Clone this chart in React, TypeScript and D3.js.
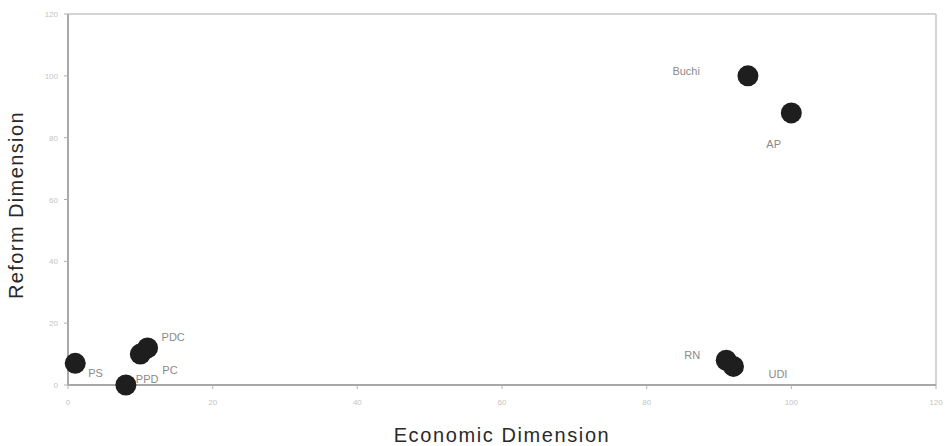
import React from "react";
import * as d3 from "d3";

const parties = ["PS", "PPD", "PC", "PDC", "Buchi", "AP", "RN", "UDI"];
const economic = [1, 8, 10, 11, 94, 100, 91, 92];
const reform = [7, 0, 10, 12, 100, 88, 8, 6];
const xTicks = [0, 20, 40, 60, 80, 100, 120];
const yTicks = [0, 20, 40, 60, 80, 100, 120];

// label placement offsets (px) relative to each point: [dx, dy, anchor]
const labelOffsets: [number, number, string][] = [
  [13, 14, "start"],
  [10, -2, "start"],
  [22, 20, "start"],
  [14, -7, "start"],
  [-48, -1, "end"],
  [-25, 35, "start"],
  [-26, -1, "end"],
  [35, 12, "start"],
];

export default function App() {
  const W = 949, H = 446;
  const m = { left: 68, right: 13, top: 14, bottom: 61 };
  const x = d3.scaleLinear().domain([0, 120]).range([m.left, W - m.right]);
  const y = d3.scaleLinear().domain([0, 120]).range([H - m.bottom, m.top]);
  const font = "Liberation Sans, Arial, sans-serif";
  return (
    <svg width={W} height={H} style={{ position: "absolute", left: 0, top: 0 }} fontFamily={font}>
      <rect x={0} y={0} width={W} height={H} fill="#fff" />
      {/* top and right frame */}
      <line x1={x(0)} x2={x(120)} y1={y(120)} y2={y(120)} stroke="#d4d4d4" strokeWidth={2} />
      <line x1={x(120)} x2={x(120)} y1={y(120)} y2={y(0)} stroke="#d4d4d4" strokeWidth={2} />
      {/* axes */}
      <line x1={x(0)} x2={x(120)} y1={y(0)} y2={y(0)} stroke="#a8a8a8" strokeWidth={2} />
      <line x1={x(0)} x2={x(0)} y1={y(0)} y2={y(120)} stroke="#a8a8a8" strokeWidth={2} />
      {xTicks.map((t) => (
        <g key={"x" + t}>
          <line x1={x(t)} x2={x(t)} y1={y(0)} y2={y(0) + 4} stroke="#b0b0b0" strokeWidth={1} />
          <text x={x(t)} y={y(0) + 20} fontSize={8} fill="#c4c4c4" textAnchor="middle">{t}</text>
        </g>
      ))}
      {yTicks.map((t) => (
        <g key={"y" + t}>
          <line x1={x(0) - 4} x2={x(0)} y1={y(t)} y2={y(t)} stroke="#b0b0b0" strokeWidth={1} />
          <text x={x(0) - 10} y={y(t) + 3} fontSize={8} fill="#c4c4c4" textAnchor="end">{t}</text>
        </g>
      ))}
      {parties.map((p, i) => (
        <circle key={p} cx={x(economic[i])} cy={y(reform[i])} r={10.5} fill="#1e1e1e" />
      ))}
      {parties.map((p, i) => {
        const [dx, dy, anchor] = labelOffsets[i];
        return (
          <text key={"l" + p} x={x(economic[i]) + dx} y={y(reform[i]) + dy} fontSize={11} fill="#8a8a8a" textAnchor={anchor}>
            {p}
          </text>
        );
      })}
      <text x={(x(0) + x(120)) / 2} y={442} fontSize={20} fill="#2a2a2a" textAnchor="middle" letterSpacing={1.6}>
        Economic Dimension
      </text>
      <text transform={`translate(23,205) rotate(-90)`} fontSize={20} fill="#2a2a2a" textAnchor="middle" letterSpacing={1.4}>
        Reform Dimension
      </text>
    </svg>
  );
}
